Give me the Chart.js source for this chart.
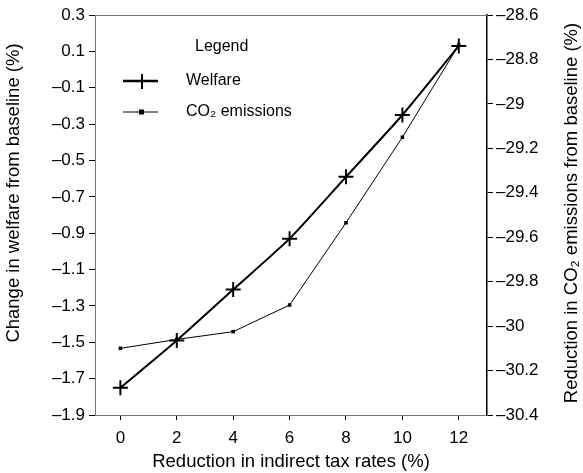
<!DOCTYPE html>
<html><head><meta charset="utf-8">
<script src="https://cdn.jsdelivr.net/npm/chart.js@4/dist/chart.umd.min.js"></script>
<style>html,body{margin:0;padding:0;background:#fff}#wrap{width:583px;height:473px}</style>
</head><body><div id="wrap"><canvas id="c" width="583" height="473"></canvas></div>
<script>
const taxReduction = [0, 2, 4, 6, 8, 10, 12];
const welfareChange = [-1.75, -1.49, -1.21, -0.93, -0.59, -0.25, 0.13];
const co2Reduction = [-30.10, -30.06, -30.025, -29.905, -29.535, -29.15, -28.735];
const leftTicks = [-1.9, -1.7, -1.5, -1.3, -1.1, -0.9, -0.7, -0.5, -0.3, -0.1, 0.1, 0.3];
const leftTickLabels = ['\u20131.9','\u20131.7','\u20131.5','\u20131.3','\u20131.1','\u20130.9','\u20130.7','\u20130.5','\u20130.3','\u20130.1','0.1','0.3'];
const rightTicks = [-30.4, -30.2, -30, -29.8, -29.6, -29.4, -29.2, -29, -28.8, -28.6];
const rightTickLabels = ['\u201330.4','\u201330.2','\u201330','\u201329.8','\u201329.6','\u201329.4','\u201329.2','\u201329','\u201328.8','\u201328.6'];
const xTicks = [0, 2, 4, 6, 8, 10, 12];
const leftTitle = 'Change in welfare from baseline (%)';
const rightTitle = 'Reduction in CO\u2082 emissions from baseline (%)';
const xTitle = 'Reduction in indirect tax rates (%)';

const FONT = '"Liberation Sans", Arial, sans-serif';

const decorPlugin = {
  id: 'decor',
  afterDraw(chart) {
    const ctx = chart.ctx;
    const ca = chart.chartArea;
    ctx.save();
    ctx.strokeStyle = '#777';
    ctx.lineWidth = 1;
    ctx.beginPath();
    ctx.moveTo(ca.left, ca.top + 0.5);
    ctx.lineTo(ca.right, ca.top + 0.5);
    ctx.stroke();

    ctx.fillStyle = '#000';
    ctx.textBaseline = 'middle';
    ctx.font = '18.5px ' + FONT;
    ctx.textAlign = 'center';
    ctx.save();
    ctx.translate(14, 193); ctx.rotate(-Math.PI / 2);
    ctx.fillText(leftTitle, 0, 0);
    ctx.restore();
    ctx.save();
    ctx.translate(572, 213); ctx.rotate(-Math.PI / 2);
    ctx.fillText(rightTitle, 0, 0);
    ctx.restore();

    ctx.font = '16px ' + FONT;
    ctx.textAlign = 'left';
    ctx.fillText('Legend', 195, 47);
    const ds = chart.data.datasets;
    ctx.strokeStyle = '#000';
    ctx.lineWidth = 2.5;
    ctx.beginPath(); ctx.moveTo(123, 81); ctx.lineTo(158, 81); ctx.stroke();
    ctx.lineWidth = 2;
    ctx.beginPath(); ctx.moveTo(142, 74); ctx.lineTo(142, 89); ctx.stroke();
    ctx.fillText(ds[0].label, 186, 81);
    ctx.lineWidth = 1.2;
    ctx.beginPath(); ctx.moveTo(123, 112); ctx.lineTo(158, 112); ctx.stroke();
    ctx.fillRect(139, 109.5, 5, 5);
    ctx.fillText(ds[1].label, 186, 112);
    ctx.restore();
  }
};

new Chart(document.getElementById('c'), {
  type: 'line',
  data: {
    datasets: [
      {
        label: 'Welfare',
        data: taxReduction.map((x, i) => ({x, y: welfareChange[i]})),
        yAxisID: 'y',
        borderColor: '#000',
        backgroundColor: '#000',
        borderWidth: 2,
        tension: 0.2,
        pointStyle: 'cross',
        pointRadius: 7.5,
        pointBorderWidth: 2,
        pointBorderColor: '#000'
      },
      {
        label: 'CO\u2082 emissions',
        data: taxReduction.map((x, i) => ({x, y: co2Reduction[i]})),
        yAxisID: 'y1',
        borderColor: '#000',
        backgroundColor: '#000',
        borderWidth: 1,
        tension: 0,
        pointStyle: 'rect',
        pointRadius: 2.5,
        pointBorderWidth: 0
      }
    ]
  },
  options: {
    responsive: false,
    animation: false,
    devicePixelRatio: 1,
    layout: { padding: { top: 15, left: 0, right: 0, bottom: 0 } },
    plugins: { legend: { display: false }, tooltip: { enabled: false } },
    scales: {
      x: {
        type: 'linear',
        min: -0.9, max: 13,
        afterBuildTicks: s => { s.ticks = xTicks.map(v => ({value: v})); },
        afterFit: s => { s.height = 58; },
        border: { color: '#777', width: 1 },
        grid: { drawOnChartArea: false, tickLength: 5, color: '#000' },
        ticks: { color: '#000', font: { family: FONT, size: 17 }, padding: 8, maxRotation: 0 },
        title: { display: true, text: xTitle, color: '#000', font: { family: FONT, size: 18.5 }, padding: { top: 0, bottom: 0 } }
      },
      y: {
        position: 'left',
        min: -1.9, max: 0.3,
        afterBuildTicks: s => { s.ticks = leftTicks.map(v => ({value: v})); },
        afterFit: s => { s.width = 95; },
        border: { color: '#777', width: 1 },
        grid: { drawOnChartArea: false, tickLength: 6, color: '#000' },
        ticks: { color: '#000', font: { family: FONT, size: 17 }, padding: 4,
          callback: (v, i) => leftTickLabels[i] },
        title: { display: false }
      },
      y1: {
        position: 'right',
        min: -30.4, max: -28.6,
        afterBuildTicks: s => { s.ticks = rightTicks.map(v => ({value: v})); },
        afterFit: s => { s.width = 96; },
        border: { color: '#000', width: 1.5 },
        grid: { drawOnChartArea: false, tickLength: 6, color: '#000' },
        ticks: { color: '#000', font: { family: FONT, size: 17 }, padding: 3,
          callback: (v, i) => rightTickLabels[i] },
        title: { display: false }
      }
    }
  },
  plugins: [decorPlugin]
});
</script></body></html>
